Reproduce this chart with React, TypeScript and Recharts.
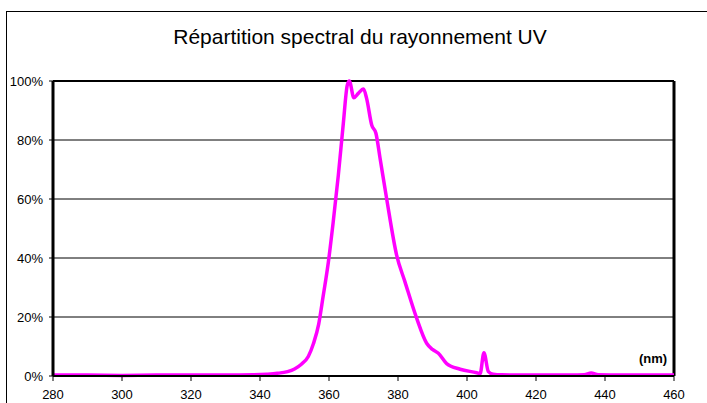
import { LineChart, Line, XAxis, YAxis, CartesianGrid, ReferenceLine } from "recharts"

// wavelength (nm) and relative intensity (%)
const wavelengths = [
  280, 290, 300, 310, 320, 330, 338, 342, 345, 348, 350, 352, 354, 355.5, 357, 358.3, 359.8, 361.2, 362.7, 364.1, 365.3, 365.9,
  367.2, 368.5, 370, 370.9, 372.4, 373.6, 374.8, 376.7, 379.6, 382, 385.4, 388.3, 390, 391.7, 394.1, 398, 402.8, 403.8,
  404.9, 406.2, 407.6, 410, 420, 430, 434, 436, 438, 445, 460,
]
const intensity = [
  0.3, 0.3, 0.2, 0.3, 0.3, 0.3, 0.4, 0.6, 0.9, 1.5, 2.4, 4.0, 6.6, 11.0, 17.5, 27.0, 38.5, 52.0, 68.0, 85.0, 98.6, 100,
  94.3, 95.8, 97.3, 94.1, 85.0, 82.3, 73.8, 60.2, 41.0, 32.0, 19.6, 11.1, 9.0, 7.7, 4.2, 2.3, 1.1, 0.8,
  7.9, 1.5, 0.6, 0.4, 0.3, 0.3, 0.4, 1.0, 0.4, 0.3, 0.3,
]
const xTicks = [280, 300, 320, 340, 360, 380, 400, 420, 440, 460]
const yTicks = [0, 20, 40, 60, 80, 100]

const data = wavelengths.map((nm, i) => ({ nm, value: intensity[i] }))

const axisFont = { fontSize: 13, fill: "#000", fontFamily: "Liberation Sans, Arial, sans-serif" }

export default function App() {
  return (
    <div style={{ position: "absolute", left: 0, top: 0, width: 707, height: 403, background: "#fff", overflow: "hidden" }}>
      <div style={{ position: "absolute", left: 6, top: 11, width: 710, height: 420, border: "1px solid #000", boxSizing: "border-box" }} />
      <div
        style={{
          position: "absolute", left: 0, top: 25, width: 720, textAlign: "center",
          fontFamily: "Liberation Sans, Arial, sans-serif", fontSize: 21, color: "#000",
        }}
      >
        Répartition spectral du rayonnement UV
      </div>
      <div style={{ position: "absolute" }}>
        <LineChart width={707} height={403} data={data} margin={{ top: 81, right: 33, bottom: 0, left: 0 }}>
          <CartesianGrid horizontal vertical={false} stroke="#000" strokeWidth={1} />
          <XAxis
            dataKey="nm" type="number" domain={[280, 460]} ticks={xTicks} height={27}
            axisLine={{ stroke: "#000", strokeWidth: 2 }} tickLine={{ stroke: "#000" }}
            tickSize={5} tickMargin={9} tick={axisFont} interval={0}
          />
          <YAxis
            width={53} type="number" domain={[0, 100]} ticks={yTicks}
            tickFormatter={(v) => `${v}%`}
            axisLine={{ stroke: "#000", strokeWidth: 3 }} tickLine={{ stroke: "#000" }}
            tickSize={4} tickMargin={6} tick={axisFont}
          />
          <ReferenceLine y={100} stroke="#000" strokeWidth={2} />
          <ReferenceLine x={460} stroke="#000" strokeWidth={3} />
          <Line type="monotone" dataKey="value" stroke="#ff00ff" strokeWidth={3.5} dot={false} isAnimationActive={false} />
        </LineChart>
      </div>
      <div
        style={{
          position: "absolute", left: 639, top: 351, fontFamily: "Liberation Sans, Arial, sans-serif",
          fontSize: 13, fontWeight: "bold", color: "#000",
        }}
      >
        (nm)
      </div>
    </div>
  )
}
